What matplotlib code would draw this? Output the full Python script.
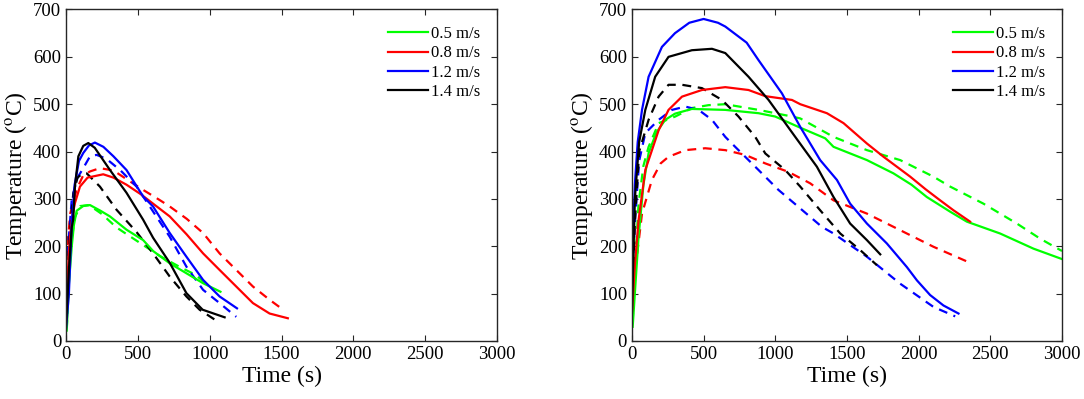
import matplotlib.pyplot as plt

plt.rcParams['font.family'] = ['Liberation Serif', 'DejaVu Serif']
plt.rcParams['mathtext.fontset'] = 'stix'

speeds = ['0.5 m/s', '0.8 m/s', '1.2 m/s', '1.4 m/s']
colors = ['#00ff00', '#ff0000', '#0000ff', '#000000']

# left panel, solid lines
left_solid_t = [
    [5, 20, 40, 55, 74, 120, 167, 240, 306, 421, 537, 606, 722, 838, 954, 1075],
    [0, 20, 39, 62, 97, 150, 259, 330, 421, 520, 606, 722, 840, 954, 1069, 1185, 1301, 1417, 1544],
    [0, 20, 40, 60, 90, 120, 160, 201, 260, 330, 421, 537, 606, 722, 838, 954, 1069, 1190],
    [0, 20, 40, 50, 62, 86, 120, 155, 200, 306, 421, 537, 606, 722, 838, 951, 1104],
]
left_solid_T = [
    [22, 120, 200, 245, 275, 285, 287, 275, 263, 235, 213, 190, 164, 143, 122, 104],
    [60, 190, 256, 291, 326, 345, 352, 345, 330, 310, 290, 263, 225, 185, 150, 115, 80, 58, 48],
    [25, 100, 250, 330, 380, 397, 413, 419, 410, 390, 361, 305, 284, 228, 178, 129, 94, 69],
    [30, 150, 240, 256, 326, 390, 412, 418, 408, 361, 313, 256, 218, 165, 101, 66, 50],
]
# left panel, dashed lines
left_dash_t = [
    [5, 30, 60, 100, 160, 250, 350, 500, 650, 800, 900, 1000],
    [0, 30, 74, 120, 167, 236, 330, 430, 537, 650, 722, 840, 954, 1069, 1185, 1301, 1417, 1498],
    [10, 40, 80, 120, 167, 213, 280, 380, 491, 583, 722, 838, 954, 1069, 1185],
    [0, 20, 50, 80, 120, 144, 236, 352, 491, 606, 722, 838, 930, 1046],
]
left_dash_T = [
    [25, 190, 260, 285, 287, 268, 240, 210, 180, 155, 140, 115],
    [170, 270, 320, 350, 358, 365, 360, 340, 319, 298, 284, 258, 228, 185, 150, 115, 87, 69],
    [180, 300, 345, 365, 390, 393, 385, 360, 326, 284, 220, 157, 108, 80, 51],
    [40, 200, 310, 345, 355, 354, 326, 277, 230, 185, 136, 94, 66, 43],
]

# right panel, solid lines
right_solid_t = [
    [5, 20, 46, 80, 116, 170, 232, 300, 418, 651, 883, 999, 1162, 1348, 1406, 1639, 1824, 1950, 2057, 2220, 2336, 2568, 2801, 3000],
    [0, 20, 46, 93, 186, 255, 349, 488, 651, 813, 930, 1116, 1174, 1360, 1476, 1639, 1755, 1941, 2050, 2150, 2243, 2359],
    [0, 20, 40, 70, 116, 209, 300, 400, 500, 600, 651, 800, 883, 1046, 1174, 1313, 1430, 1522, 1639, 1778, 1918, 1988, 2080, 2173, 2278],
    [0, 20, 50, 93, 162, 255, 418, 558, 651, 813, 953, 1139, 1290, 1406, 1522, 1639, 1732],
]
right_solid_T = [
    [30, 100, 220, 330, 397, 440, 467, 480, 490, 488, 481, 474, 452, 428, 410, 382, 354, 330, 304, 273, 252, 227, 195, 173],
    [60, 160, 255, 361, 445, 488, 516, 530, 536, 530, 517, 509, 500, 481, 460, 417, 389, 347, 320, 297, 276, 252],
    [150, 330, 420, 488, 558, 621, 650, 672, 680, 672, 664, 630, 593, 523, 452, 382, 340, 290, 248, 206, 156, 128, 97, 75, 58],
    [60, 300, 420, 488, 558, 600, 614, 617, 608, 558, 509, 431, 368, 304, 248, 213, 183],
]
# right panel, dashed lines
right_dash_t = [
    [5, 20, 46, 80, 116, 186, 302, 420, 534, 651, 883, 1116, 1174, 1406, 1639, 1871, 2103, 2220, 2452, 2685, 2848, 3000],
    [0, 23, 70, 139, 200, 255, 372, 511, 651, 790, 930, 1092, 1243, 1406, 1639, 1871, 2103, 2359],
    [0, 20, 50, 93, 186, 279, 372, 465, 558, 651, 720, 883, 1022, 1162, 1325, 1406, 1639, 1871, 2103, 2255],
    [0, 20, 50, 116, 186, 255, 349, 488, 628, 743, 860, 930, 1069, 1174, 1313, 1453, 1592, 1709],
]
right_dash_T = [
    [40, 150, 290, 370, 410, 460, 474, 492, 498, 500, 488, 474, 470, 431, 403, 382, 347, 326, 290, 248, 216, 190],
    [120, 150, 269, 340, 375, 389, 403, 407, 403, 393, 375, 357, 333, 297, 269, 234, 199, 165],
    [120, 250, 380, 439, 467, 488, 495, 488, 467, 431, 410, 361, 319, 283, 241, 227, 178, 121, 72, 52],
    [60, 250, 400, 467, 516, 541, 541, 534, 509, 474, 431, 396, 361, 326, 276, 227, 192, 160],
]

x_ticks = [0, 500, 1000, 1500, 2000, 2500, 3000]
y_ticks = [0, 100, 200, 300, 400, 500, 600, 700]


def draw_panel(ax, solid_t, solid_T, dash_t, dash_T):
    for i in range(4):
        ax.plot(dash_t[i], dash_T[i], color=colors[i], lw=1.6, dashes=(4, 3))
    for i in range(4):
        ax.plot(solid_t[i], solid_T[i], color=colors[i], lw=1.6, label=speeds[i])
    ax.set_xlim(0, 3000)
    ax.set_ylim(0, 700)
    ax.set_xticks(x_ticks)
    ax.set_yticks(y_ticks)
    ax.tick_params(direction='in', top=True, right=True, length=4, labelsize=13.5,
                   width=0.8, colors='#262626', labelcolor='black')
    for s in ax.spines.values():
        s.set_linewidth(1.0)
        s.set_color('#262626')
    ax.set_xlabel('Time (s)', fontsize=17, labelpad=2)
    ax.set_ylabel('Temperature ($^{\\rm o}$C)', fontsize=17, labelpad=3)
    ax.legend(loc='upper right', frameon=False, fontsize=12, handlelength=2.4,
              handletextpad=0.2, labelspacing=0.2, borderaxespad=0.6)


fig = plt.figure(figsize=(10.84, 3.99), dpi=100)
ax1 = fig.add_axes([0.0609, 0.1454, 0.3976, 0.8308])
ax2 = fig.add_axes([0.583, 0.1454, 0.3967, 0.8308])
draw_panel(ax1, left_solid_t, left_solid_T, left_dash_t, left_dash_T)
draw_panel(ax2, right_solid_t, right_solid_T, right_dash_t, right_dash_T)

fig.savefig('out.png', dpi=100)
